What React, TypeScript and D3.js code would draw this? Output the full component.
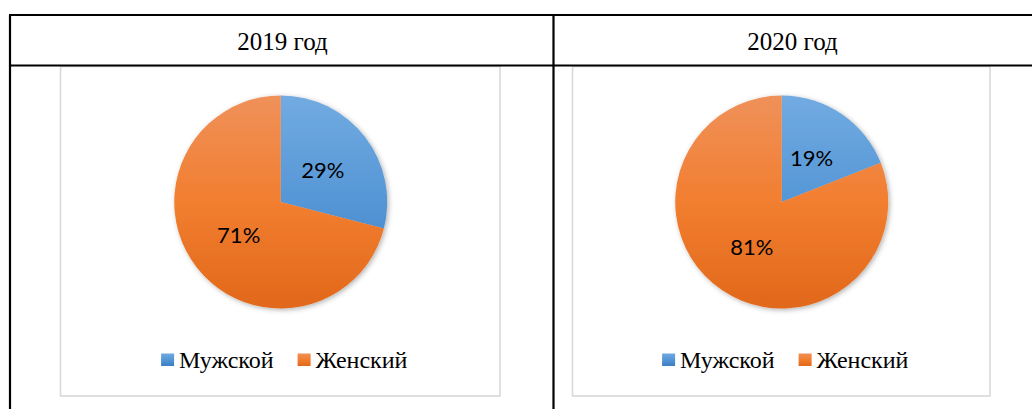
import { useEffect, useRef } from 'react';
import * as d3 from 'd3';

// Data
const YEARS = ['2019 год', '2020 год'];
const CATEGORIES = ['Мужской', 'Женский'];
const MALE = [29, 19];
const FEMALE = [71, 81];

const W = 1032;
const H = 409;

const BLUE_STOPS = ['#72abe1', '#5596d6', '#3c7ec3'];
const ORANGE_STOPS = ['#ef915a', '#f27e30', '#e1681a'];

const COLORS = {
  frame: '#d9d9d9',
  text: '#000000',
};

export default function App() {
  const svgRef = useRef<SVGSVGElement>(null);

  useEffect(() => {
    if (!svgRef.current) return;
    document.body.style.margin = '0';
    const svg = d3.select(svgRef.current);
    svg.selectAll('*').remove();

    const table = { left: 10, mid: 553.5, right: 1034, top: 15, headerBottom: 65.5 };
    const boxes = [
      { x0: 60.5, x1: 500 },
      { x0: 572.5, x1: 990 },
    ];
    const boxTop = 66.5;
    const boxBottom = 396;
    const radius = 106.5;
    const pieCy = 202;

    const defs = svg.append('defs');
    const grad = (id: string, stops: string[], y1: number, y2: number) => {
      const g = defs.append('linearGradient')
        .attr('id', id)
        .attr('gradientUnits', 'userSpaceOnUse')
        .attr('x1', 0).attr('x2', 0)
        .attr('y1', y1).attr('y2', y2);
      stops.forEach((c, k) => {
        g.append('stop').attr('offset', k / (stops.length - 1)).attr('stop-color', c);
      });
    };
    // pie paths are drawn around (0,0), so the gradient spans -r..r
    grad('gBlue', BLUE_STOPS, -radius, radius);
    grad('gOrange', ORANGE_STOPS, -radius, radius);
    grad('gBlueL', BLUE_STOPS, 353, 366);
    grad('gOrangeL', ORANGE_STOPS, 353, 366);

    const shadow = defs.append('filter')
      .attr('id', 'pieShadow')
      .attr('x', '-20%').attr('y', '-20%')
      .attr('width', '140%').attr('height', '140%');
    shadow.append('feDropShadow')
      .attr('dx', 1.5).attr('dy', 1.5)
      .attr('stdDeviation', 2.5)
      .attr('flood-color', '#000')
      .attr('flood-opacity', 0.3);

    // Chart frames (light grey)
    boxes.forEach(b => {
      svg.append('rect')
        .attr('x', b.x0).attr('y', boxTop)
        .attr('width', b.x1 - b.x0).attr('height', boxBottom - boxTop)
        .attr('fill', '#fff')
        .attr('stroke', COLORS.frame)
        .attr('stroke-width', 1.6);
    });

    // Table lines
    const lines = svg.append('g').attr('stroke', '#000').attr('stroke-width', 2.2);
    lines.append('line').attr('x1', table.left - 1).attr('x2', table.right).attr('y1', table.top).attr('y2', table.top);
    lines.append('line').attr('x1', table.left - 1).attr('x2', table.right).attr('y1', table.headerBottom).attr('y2', table.headerBottom);
    lines.append('line').attr('x1', table.left).attr('x2', table.left).attr('y1', table.top).attr('y2', H + 2);
    lines.append('line').attr('x1', table.mid).attr('x2', table.mid).attr('y1', table.top).attr('y2', H + 2);

    const pie = d3.pie<number>().sort(null).value(d => d);
    const arc = d3.arc<d3.PieArcDatum<number>>().innerRadius(0).outerRadius(radius);
    const fills = ['url(#gBlue)', 'url(#gOrange)'];
    const legendFills = ['url(#gBlueL)', 'url(#gOrangeL)'];

    YEARS.forEach((year, i) => {
      svg.append('text')
        .attr('x', i === 0 ? 282.5 : 792.5)
        .attr('y', 49.5)
        .attr('text-anchor', 'middle')
        .attr('font-family', '"Liberation Serif", "Times New Roman", serif')
        .attr('font-size', '25px')
        .attr('fill', COLORS.text)
        .text(year);

      const b = boxes[i];
      const cx = (b.x0 + b.x1) / 2 + 0.5;
      const values = [MALE[i], FEMALE[i]];
      const arcs = pie(values);

      const g = svg.append('g').attr('transform', `translate(${cx},${pieCy})`);
      const slices = g.append('g').attr('filter', 'url(#pieShadow)');
      slices.selectAll('path')
        .data(arcs)
        .join('path')
        .attr('d', arc)
        .attr('fill', (_, k) => fills[k]);

      g.selectAll('text.lbl')
        .data(arcs)
        .join('text')
        .attr('class', 'lbl')
        .attr('x', d => arc.centroid(d)[0])
        .attr('y', d => arc.centroid(d)[1])
        .attr('text-anchor', 'middle')
        .attr('dominant-baseline', 'central')
        .attr('font-family', 'Lato, "Open Sans", sans-serif')
        .attr('font-size', '22px')
        .attr('fill', COLORS.text)
        .text(d => `${d.data}%`);

      // Legend
      const leg = svg.append('g');
      let x = 0;
      CATEGORIES.forEach((cat, k) => {
        leg.append('rect')
          .attr('x', x).attr('y', 353.5)
          .attr('width', 13).attr('height', 12.5)
          .attr('fill', legendFills[k]);
        const t = leg.append('text')
          .attr('x', x + 18)
          .attr('y', 367.5)
          .attr('font-family', '"Liberation Serif", "Times New Roman", serif')
          .attr('font-size', '24px')
          .attr('fill', COLORS.text)
          .text(cat);
        const tw = (t.node() as SVGTextElement).getComputedTextLength();
        x += 18 + tw + 24;
      });
      const total = x - 24;
      leg.attr('transform', `translate(${cx + 3.5 - total / 2},0)`);
    });
  }, []);

  return (
    <svg
      ref={svgRef}
      width={W}
      height={H}
      style={{ position: 'absolute', left: 0, top: 0, background: '#fff' }}
    />
  );
}
